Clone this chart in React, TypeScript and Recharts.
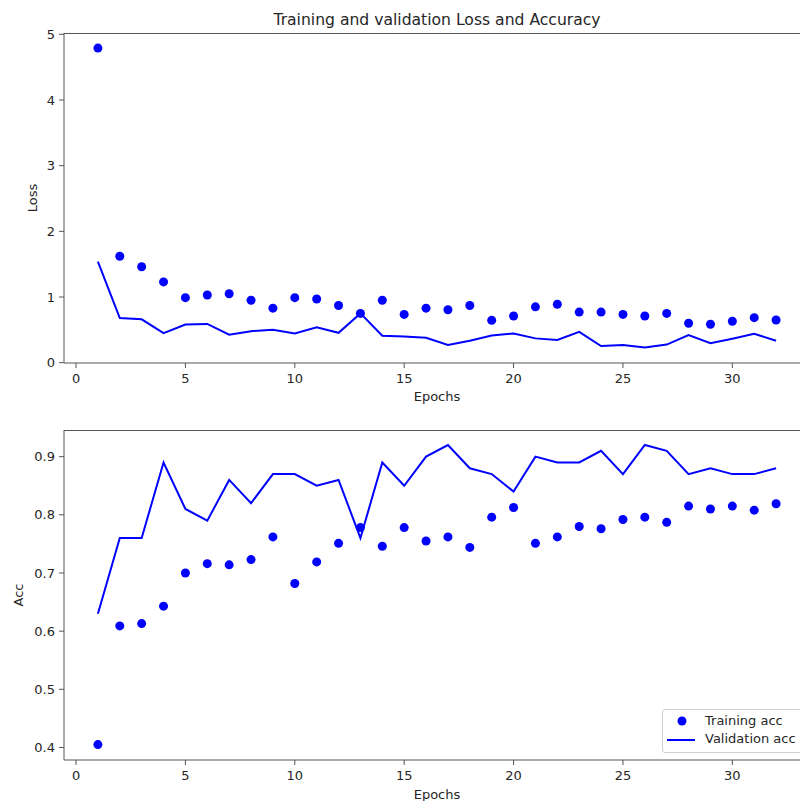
import React from "react";
import { ComposedChart, Line, XAxis, YAxis } from "recharts";

const epochs = [1, 2, 3, 4, 5, 6, 7, 8, 9, 10, 11, 12, 13, 14, 15, 16, 17, 18, 19, 20, 21, 22, 23, 24, 25, 26, 27, 28, 29, 30, 31, 32];

const trainLoss = [4.79, 1.62, 1.46, 1.23, 0.99, 1.03, 1.05, 0.95, 0.83, 0.99, 0.97, 0.87, 0.75, 0.95, 0.735, 0.83, 0.805, 0.87, 0.645, 0.71, 0.85, 0.89, 0.77, 0.77, 0.735, 0.71, 0.75, 0.6, 0.585, 0.63, 0.685, 0.65];
const valLoss = [1.54, 0.68, 0.66, 0.45, 0.58, 0.59, 0.425, 0.48, 0.5, 0.445, 0.54, 0.455, 0.75, 0.41, 0.4, 0.38, 0.27, 0.335, 0.415, 0.445, 0.37, 0.345, 0.47, 0.254, 0.27, 0.23, 0.275, 0.42, 0.295, 0.365, 0.44, 0.335];

const trainAcc = [0.405, 0.609, 0.613, 0.643, 0.7, 0.716, 0.714, 0.723, 0.762, 0.682, 0.719, 0.751, 0.778, 0.746, 0.778, 0.755, 0.762, 0.744, 0.796, 0.8125, 0.751, 0.762, 0.78, 0.776, 0.792, 0.796, 0.787, 0.815, 0.81, 0.815, 0.808, 0.819];
const valAcc = [0.63, 0.76, 0.76, 0.89, 0.81, 0.79, 0.86, 0.82, 0.87, 0.87, 0.85, 0.86, 0.76, 0.89, 0.85, 0.9, 0.92, 0.88, 0.87, 0.84, 0.9, 0.89, 0.89, 0.91, 0.87, 0.92, 0.91, 0.87, 0.88, 0.87, 0.87, 0.88];

const xTicks = [0, 5, 10, 15, 20, 25, 30];
const lossTicks = [0, 1, 2, 3, 4, 5];
const accTicks = [0.4, 0.5, 0.6, 0.7, 0.8, 0.9];

const lossData = epochs.map((e, i) => ({ epoch: e, train: trainLoss[i], val: valLoss[i] }));
const accData = epochs.map((e, i) => ({ epoch: e, train: trainAcc[i], val: valAcc[i] }));

const FONT = "'DejaVu Sans', sans-serif";
const BLUE = "#0000ff";
const SPINE = "#555";
const TXT = "#262626";
const tickStyle = { fontSize: 13, fill: TXT, fontFamily: FONT };

function AccLegend() {
  return (
    <div
      style={{
        position: "absolute",
        left: 662,
        top: 709,
        width: 150,
        height: 42,
        border: "1px solid #d0d0d0",
        borderRadius: 3,
        background: "rgba(255,255,255,0.8)",
        fontFamily: FONT,
        fontSize: 13,
        color: TXT,
      }}
    >
      <svg width={36} height={42} style={{ position: "absolute", left: 0, top: 0 }}>
        <circle cx={19} cy={11} r={4.5} fill={BLUE} />
        <line x1={4} x2={32} y1={30} y2={30} stroke={BLUE} strokeWidth={2} />
      </svg>
      <div style={{ position: "absolute", left: 42, top: 3, lineHeight: "16px", whiteSpace: "nowrap" }}>Training acc</div>
      <div style={{ position: "absolute", left: 42, top: 21, lineHeight: "16px", whiteSpace: "nowrap" }}>Validation acc</div>
    </div>
  );
}

function Panel({ data, domain, ticks, fmt }: any) {
  return (
    <ComposedChart
      width={830}
      height={400}
      data={data}
      margin={{ top: 30, right: 20, bottom: 10, left: 24 }}
    >
      <XAxis
        dataKey="epoch"
        type="number"
        domain={[-0.55, 33.55]}
        ticks={xTicks}
        allowDataOverflow
        height={30}
        tickSize={5}
        tickMargin={6}
        stroke={SPINE}
        tick={tickStyle}
        interval={0}
      />
      <YAxis
        type="number"
        domain={domain}
        ticks={ticks}
        allowDataOverflow
        width={40}
        tickSize={5}
        tickMargin={4}
        stroke={SPINE}
        tick={tickStyle}
        tickFormatter={fmt}
        interval={0}
      />
      <Line dataKey="val" stroke={BLUE} strokeWidth={2} dot={false} isAnimationActive={false} />
      <Line dataKey="train" stroke="none" dot={{ r: 4.5, fill: BLUE, stroke: "none" }} activeDot={false} isAnimationActive={false} />
    </ComposedChart>
  );
}

export default function App() {
  const txt: React.CSSProperties = { position: "absolute", fontFamily: FONT, color: TXT, whiteSpace: "nowrap", lineHeight: "16px" };
  // top spines of the two axes boxes
  const spine: React.CSSProperties = { position: "absolute", left: 64, width: 746, height: 1, background: SPINE };
  return (
    <div style={{ position: "absolute", left: 0, top: 0, width: 800, height: 801, overflow: "hidden", background: "#fff" }}>
      <div style={{ position: "absolute", left: 0, top: 3 }}>
        <Panel data={lossData} domain={[-0.005, 5.02]} ticks={lossTicks} fmt={(v: number) => String(v)} />
      </div>
      <div style={{ position: "absolute", left: 0, top: 400 }}>
        <Panel data={accData} domain={[0.3785, 0.9458]} ticks={accTicks} fmt={(v: number) => v.toFixed(1)} />
      </div>
      <div style={{ ...spine, top: 33 }} />
      <div style={{ ...spine, top: 430 }} />
      <AccLegend />
      <div style={{ ...txt, left: 237, width: 400, top: 10, fontSize: 15.6, lineHeight: "20px", textAlign: "center" }}>
        Training and validation Loss and Accuracy
      </div>
      <div style={{ ...txt, left: 337, width: 200, top: 389, fontSize: 13, textAlign: "center" }}>Epochs</div>
      <div style={{ ...txt, left: 337, width: 200, top: 787, fontSize: 13, textAlign: "center" }}>Epochs</div>
      <div style={{ ...txt, left: 33 - 50, width: 100, top: 198 - 8, fontSize: 13, textAlign: "center", transform: "rotate(-90deg)" }}>Loss</div>
      <div style={{ ...txt, left: 19 - 50, width: 100, top: 595 - 8, fontSize: 13, textAlign: "center", transform: "rotate(-90deg)" }}>Acc</div>
    </div>
  );
}
